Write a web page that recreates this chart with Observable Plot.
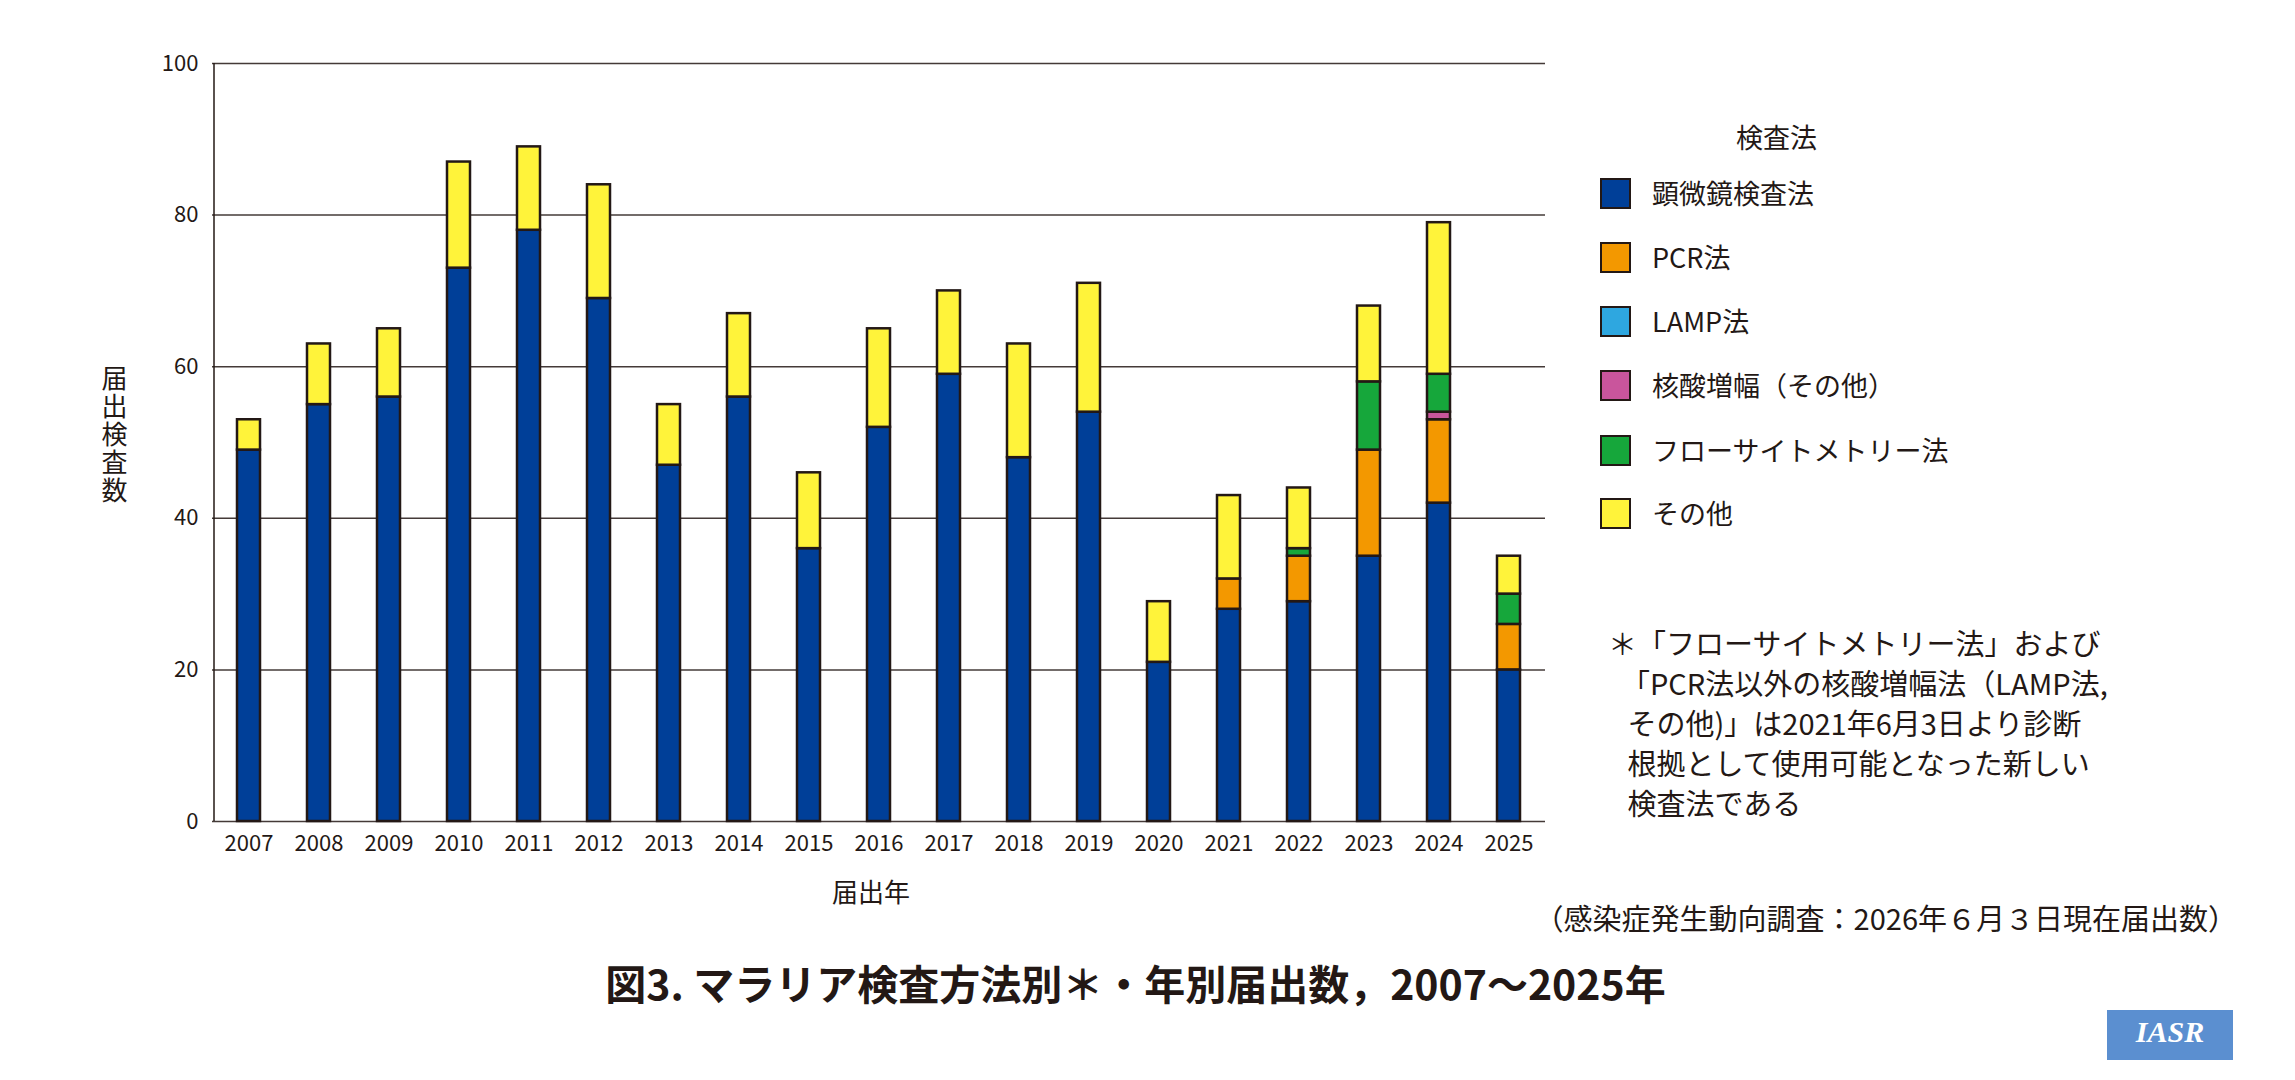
<!DOCTYPE html>
<html><head><meta charset="utf-8">
<script src="https://cdn.jsdelivr.net/npm/d3@7"></script>
<script src="https://cdn.jsdelivr.net/npm/@observablehq/plot@0.6"></script>
<style>
body{margin:0;background:#fff;font-family:"Noto Sans CJK JP","Noto Sans",sans-serif;color:#231815;width:2295px;height:1080px;position:relative;overflow:hidden}
.a{position:absolute;white-space:nowrap}
#chart svg text{font-size:22px}
</style></head><body>
<div id="chart" class="a" style="left:0;top:0"></div>
<script>
const years=["2007","2008","2009","2010","2011","2012","2013","2014","2015","2016","2017","2018","2019","2020","2021","2022","2023","2024","2025"];
const methods=["顕微鏡検査法","PCR法","LAMP法","核酸増幅（その他）","フローサイトメトリー法","その他"];
const colors=["#003f98","#f39800","#2ea7e0","#c9559c","#16a73b","#fff33a"];
const microscopy=[49,55,56,73,78,69,47,56,36,52,59,48,54,21,28,29,35,42,20];
const pcr=[0,0,0,0,0,0,0,0,0,0,0,0,0,0,4,6,14,11,6];
const lamp=[0,0,0,0,0,0,0,0,0,0,0,0,0,0,0,0,0,0,0];
const nucOther=[0,0,0,0,0,0,0,0,0,0,0,0,0,0,0,0,0,1,0];
const flow=[0,0,0,0,0,0,0,0,0,0,0,0,0,0,0,1,9,5,4];
const other=[4,8,9,14,11,15,8,11,10,13,11,15,17,8,11,8,10,20,5];
const series=[microscopy,pcr,lamp,nucOther,flow,other];
const data=[];
years.forEach((y,i)=>series.forEach((s,k)=>{if(s[i]>0)data.push({year:y,method:methods[k],value:s[i]});}));
const yTicks=[0,20,40,60,80,100];
const plot=Plot.plot({
  width:1600,height:900,marginLeft:212,marginRight:55,marginTop:63,marginBottom:79,
  style:{fontSize:"22px",fontFamily:"'Noto Sans CJK JP',sans-serif",color:"#231815",background:"transparent"},
  x:{domain:years,paddingInner:0.67,paddingOuter:0.335,label:null,tickSize:0,tickPadding:14},
  y:{domain:[0,100],ticks:yTicks,label:null,tickSize:0,tickPadding:14},
  color:{domain:methods,range:colors},
  marks:[
    Plot.gridY(yTicks,{stroke:"#231815",strokeOpacity:0.85,strokeWidth:1.5}),
    Plot.ruleX([0],{x:()=>years[0],dx:-35,y1:0,y2:100,stroke:"#231815",strokeWidth:1.5}),
    Plot.barY(data,{x:"year",y:"value",fill:"method",order:methods,stroke:"#231815",strokeWidth:2.5})
  ]
});
document.getElementById("chart").appendChild(plot);
</script>
<div class="a" style="left:96px;top:365px;font-size:26px;writing-mode:vertical-rl;letter-spacing:2px">届出検査数</div>
<div class="a" style="left:832px;top:872px;font-size:26px">届出年</div>
<div class="a" style="left:1736px;top:117px;font-size:27px">検査法</div>
<div id="legend"></div>
<script>
const lg=document.getElementById("legend");
const ys=[193,257,321,385,450,513];
methods.forEach((m,i)=>{
  lg.insertAdjacentHTML("beforeend",`<div class="a" style="left:1600px;top:${ys[i]-15}px;width:27px;height:27px;background:${colors[i]};border:2px solid #231815"></div><div class="a" style="left:1652px;top:${ys[i]-20}px;font-size:27px">${m}</div>`);
});
</script>
<div class="a" style="left:1608px;top:622px;font-size:29px;line-height:40px">＊「フローサイトメトリー法」および<br>&nbsp;&nbsp;「PCR法以外の核酸増幅法（LAMP法,<br>&nbsp;&nbsp;&nbsp;その他)」は2021年6月3日より診断<br>&nbsp;&nbsp;&nbsp;根拠として使用可能となった新しい<br>&nbsp;&nbsp;&nbsp;検査法である</div>
<div class="a" style="right:58px;top:896px;font-size:29px">（感染症発生動向調査：2026年６月３日現在届出数）</div>
<div class="a" style="left:-12px;width:2295px;text-align:center;top:952px;font-size:41px;font-weight:bold">図3. マラリア検査方法別＊・年別届出数，2007～2025年</div>
<div class="a" style="left:2107px;top:1010px;width:126px;height:50px;background:#5b8fd0;color:#fff;font:italic bold 30px 'Liberation Serif',serif;text-align:center;line-height:44px">IASR</div>
</body></html>
